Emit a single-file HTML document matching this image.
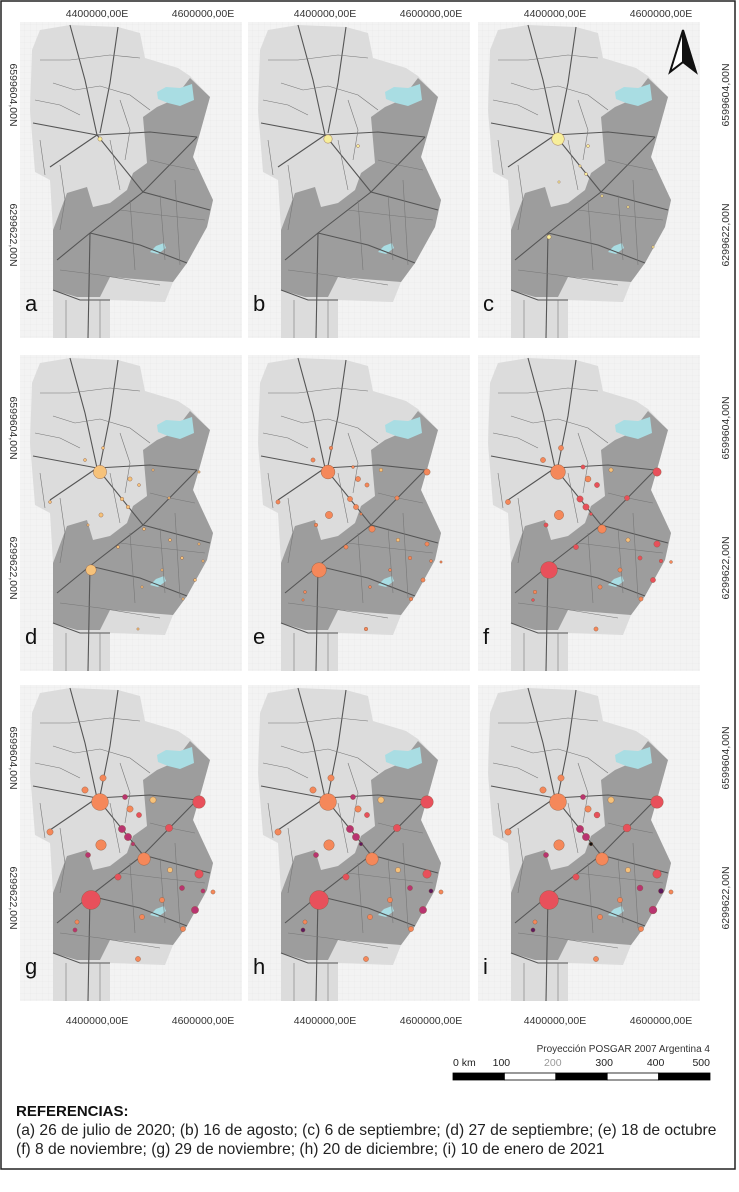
<!DOCTYPE html>
<html><head><meta charset="utf-8"><style>
html,body{margin:0;padding:0;background:#fff;}
body{width:739px;height:1187px;overflow:hidden;font-family:"Liberation Sans",sans-serif;}
svg text{font-family:"Liberation Sans",sans-serif;}
</style></head><body>
<svg id="fig" width="739" height="1187" viewBox="0 0 739 1187" xmlns="http://www.w3.org/2000/svg">
<defs>
<pattern id="grid" width="6" height="6" patternUnits="userSpaceOnUse">
<rect width="6" height="6" fill="#f3f3f3"/>
<path d="M6 0H0V6" fill="none" stroke="#e6e6e6" stroke-width="0.5"/>
</pattern>
<g id="basemap">
<rect x="20" y="22" width="222" height="316" fill="url(#grid)"/>
<polygon fill="#dcdcdc" points="32,50 40,30 70,25 118,27 140,33 145,58 178,68 190,76 210,97 200,133 193,157 213,200 207,227 187,263 173,282 165,302 110,300 110,338 53,338 53,230 50,180 35,172 30,110"/>
<polygon fill="#9d9d9d" points="190,78 210,97 200,133 193,157 213,200 207,227 187,263 173,282 110,277 100,297 77,297 53,290 53,230 67,193 87,187 93,207 110,203 127,190 133,173 147,163 143,117 157,107 173,100"/>
<polygon fill="#a9dde3" points="157,92 166,87 180,88 192,84 194,100 180,106 168,103 158,99"/>
<polygon fill="#a9dde3" points="150,252 156,246 164,243 166,248 158,254"/>
<g fill="none" stroke="#555" stroke-width="1.1">
<polyline points="70,25 85,80 97,135"/>
<polyline points="118,27 110,83 100,133"/>
<polyline points="97,135 143,192 210,210"/>
<polyline points="57,260 90,233 143,192 197,137"/>
<polyline points="90,233 88,338"/>
<polyline points="33,123 97,135 150,132 197,137"/>
<polyline points="90,233 140,245 187,263"/>
<polyline points="97,135 75,150 50,167"/>
<polyline points="53,290 80,300 110,300"/>
</g>
<g fill="none" stroke="#777" stroke-width="0.6">
<polyline points="53,83 75,90 100,86 130,95 150,110"/>
<polyline points="40,60 70,60 110,55 140,58"/>
<polyline points="35,100 60,105 80,115"/>
<polyline points="60,165 65,200 60,230"/>
<polyline points="110,140 120,190"/>
<polyline points="150,160 170,165 195,170"/>
<polyline points="120,210 160,215 205,220"/>
<polyline points="60,270 100,275 160,285"/>
<polyline points="160,195 165,260"/>
<polyline points="130,200 135,270"/>
<polyline points="175,180 180,265"/>
<polyline points="66,300 66,338"/>
<polyline points="100,300 100,338"/>
<polyline points="40,140 45,175"/>
<polyline points="120,100 130,130 125,160"/>
</g>
</g>
</defs>
<rect x="1" y="1" width="734" height="1168" fill="#fff" stroke="#222" stroke-width="1.5"/>
<g id="panels"></g>
<g id="labels"></g>
<g>
<polygon points="683,30 670,72 683,62" fill="#fff" stroke="#111" stroke-width="2"/>
<polygon points="683,30 696,72 683,62" fill="#111" stroke="#111" stroke-width="2"/>
</g>
<text x="710" y="1052" font-size="10" text-anchor="end" fill="#333">Proyección POSGAR 2007 Argentina 4</text>
<g id="scalebar"></g>
<text x="16" y="1116" font-size="15" font-weight="bold" fill="#111">REFERENCIAS:</text>
<text x="16" y="1135" font-size="15.6" fill="#222">(a) 26 de julio de 2020; (b) 16 de agosto; (c) 6 de septiembre; (d) 27 de septiembre; (e) 18 de octubre</text>
<text x="16" y="1154" font-size="15.6" fill="#222">(f) 8 de noviembre; (g) 29 de noviembre; (h) 20 de diciembre; (i) 10 de enero de 2021</text>
</svg>
<script>
const NS="http://www.w3.org/2000/svg";
const panelLetters=["a","b","c","d","e","f","g","h","i"];
const eastingTicks=["4400000,00E","4600000,00E"];
const northingTicks=["6599604,00N","6299622,00N"];
const scaleTicks=["0 km","100","200","300","400","500"];
// site locations (map units within panel)
const siteX=[80,71,179,124,81,149,179,175,108,102,30,83,65,133,110,119,98,68,150,162,183,142,122,163,118,57,55,105,193,113];
const siteY=[117,215,117,174,160,143,189,225,152,144,147,93,105,115,124,130,192,170,185,203,206,215,232,244,274,237,245,112,207,159];
// case counts per site across the nine dates (a..i)
const casesA=[4,0,0,0,0,0,0,0,0,0,0,0,0,0,0,0,0,0,0,0,0,0,0,0,0,0,0,0,0,0];
const casesB=[16,0,0,0,0,0,0,0,0,0,0,0,0,0,2,0,0,0,0,0,0,0,0,0,0,0,0,0,0,0];
const casesC=[36,4,0,1,1,0,0,1,2,1,0,0,0,0,2,0,0,0,1,0,0,0,0,0,0,0,0,0,0,0];
const casesD=[40,25,1,2,4,1,1,2,3,3,2,2,2,1,4,2,2,1,2,2,1,1,1,1,1,0,0,0,0,0];
const casesE=[44,49,9,9,12,4,4,4,6,6,4,3,4,3,6,4,4,3,3,3,2,2,2,3,3,2,1,2,1,1];
const casesF=[50,64,16,16,20,6,9,6,9,9,6,6,6,4,8,6,6,4,4,4,3,4,4,4,4,3,2,4,2,2];
const casesG=[64,81,36,36,25,12,16,12,12,12,9,9,9,9,9,6,9,6,6,6,4,6,6,6,6,4,4,6,4,3];
const casesH=[64,81,36,36,25,12,16,12,12,12,9,9,9,9,9,6,9,6,6,6,4,6,6,6,6,4,4,6,4,3];
const casesI=[64,81,36,36,25,14,16,14,12,12,9,9,9,9,9,8,9,6,6,8,6,6,6,6,6,4,4,6,4,3];
const seriesByDate=[casesA,casesB,casesC,casesD,casesE,casesF,casesG,casesH,casesI];
// incidence class per site (0 yellow .. 6 black)
const siteClass=[2,3,3,2,2,3,3,4,4,4,2,2,2,1,2,3,3,4,1,4,5,2,2,2,2,2,5,4,2,6];
const palette=["#f7ee9a","#f6c27a","#f5885a","#e8505b","#b83470","#5c1a5e","#111"];
const colOff=[0,228,458], rowOff=[0,333,663];
function rOf(v){return Math.sqrt(v)*1.05;}
const panels=document.getElementById('panels');
for(let p=0;p<9;p++){
  const dx=colOff[p%3], dy=rowOff[Math.floor(p/3)];
  const g=document.createElementNS(NS,'g');
  
  
  const u=document.createElementNS(NS,'use');
  u.setAttribute('href','#basemap');
  u.setAttribute('transform','translate('+dx+','+dy+')');
  g.appendChild(u);
  const vals=seriesByDate[p];
  const bg=document.createElementNS(NS,'g');
  bg.setAttribute('transform','translate('+(20+dx)+','+(22+dy)+')');
  for(let s=0;s<siteX.length;s++){
    const v=vals[s]; if(v<=0) continue;
    const c=document.createElementNS(NS,'circle');
    
    
    c.setAttribute('cx',siteX[s]);c.setAttribute('cy',siteY[s]);
    c.setAttribute('r',Math.max(1.2,rOf(v)));
    const ci=Math.min(siteClass[s],Math.max(0,p-2));
    c.setAttribute('fill',palette[ci]);
    c.setAttribute('stroke','#8a5a40');c.setAttribute('stroke-width','0.4');
    bg.appendChild(c);
  }
  g.appendChild(bg);
  const t=document.createElementNS(NS,'text');
  
  
  t.setAttribute('x',25+dx);t.setAttribute('y',311+dy);
  t.setAttribute('font-size','22');t.setAttribute('fill','#111');
  t.textContent=panelLetters[p];
  g.appendChild(t);
  panels.appendChild(g);
}
const labels=document.getElementById('labels');
const eastX=[97,203];
function addText(x,y,txt,rot,anchor){
  const t=document.createElementNS(NS,'text');
  
  
  t.setAttribute('x',x);t.setAttribute('y',y);
  t.setAttribute('font-size','10.5');t.setAttribute('fill','#333');
  t.setAttribute('text-anchor',anchor||'middle');
  if(rot) t.setAttribute('transform','rotate('+rot+' '+x+' '+y+')');
  t.textContent=txt;labels.appendChild(t);
}
for(let c=0;c<3;c++){for(let i=0;i<2;i++){
  addText(eastX[i]+colOff[c],17,eastingTicks[i]);
  addText(eastX[i]+colOff[c],1024,eastingTicks[i]);
}}
const northY=[95,235];
for(let r=0;r<3;r++){for(let i=0;i<2;i++){
  addText(10,northY[i]+rowOff[r],northingTicks[i],90);
  addText(729,northY[i]+rowOff[r],northingTicks[i],-90);
}}
const sb=document.getElementById('scalebar');
const sbX0=453, sbW=257;
for(let i=0;i<5;i++){
  const r=document.createElementNS(NS,'rect');
  
  
  r.setAttribute('x',sbX0+i*sbW/5);r.setAttribute('y',1073);
  r.setAttribute('width',sbW/5);r.setAttribute('height',7);
  r.setAttribute('fill',i%2?'#fff':'#000');r.setAttribute('stroke','#000');r.setAttribute('stroke-width','0.8');
  sb.appendChild(r);
}
for(let i=0;i<scaleTicks.length;i++){
  const t=document.createElementNS(NS,'text');
  
  
  const x=sbX0+i*sbW/5;
  t.setAttribute('x',i==0?x:(i==5?x:x-3));t.setAttribute('y',1066);
  t.setAttribute('font-size','10.5');t.setAttribute('fill',i==2?'#999':'#222');
  t.setAttribute('text-anchor',i==0?'start':(i==5?'end':'middle'));
  t.textContent=scaleTicks[i];sb.appendChild(t);
}
</script>
</body></html>
